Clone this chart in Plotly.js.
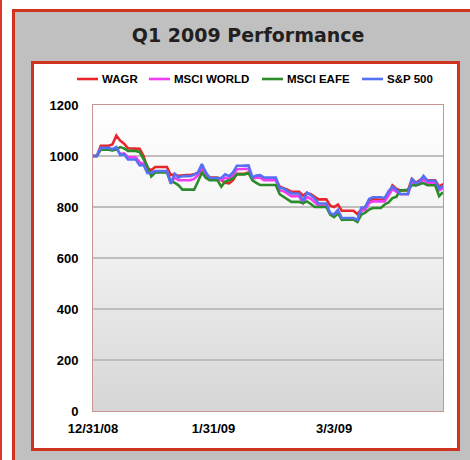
<!DOCTYPE html>
<html>
<head>
<meta charset="utf-8">
<script src="https://cdn.plot.ly/plotly-3.0.1.min.js"></script>
<style>
  html, body { margin: 0; padding: 0; width: 470px; height: 460px; overflow: hidden; background: #ffffff; }
  #leftline { position: absolute; left: 0; top: 0; width: 2px; height: 460px; background: #d8392b; }
  #outer { position: absolute; left: 12px; top: 9px; width: 480px; height: 480px; background: #c0c0c0; border: 3px solid #cf3322; box-sizing: border-box; }
  #inner { position: absolute; left: 31px; top: 61px; width: 429px; height: 390px; background: #ffffff; border: 3px solid #cf3322; box-sizing: border-box; }
  #plotbg { position: absolute; left: 93px; top: 105px; width: 350px; height: 306px; background: linear-gradient(to bottom, #ffffff 0%, #f2f2f2 45%, #d6d6d6 100%); }
  #chart { position: absolute; left: 0; top: 0; width: 470px; height: 460px; }
</style>
</head>
<body>
<div id="leftline"></div>
<div id="outer"></div>
<div id="inner"></div>
<div id="plotbg"></div>
<div id="chart"></div>
<script>
// Daily (calendar-day) index values, starting 12/31/08, ending 3/31/09
const startDate = '2008-12-31';
const seriesNames = ['WAGR', 'MSCI WORLD', 'MSCI EAFE', 'S&P 500'];
const seriesColors = ['#e8262c', '#f23cf0', '#2b8c2b', '#5570f2'];

const wagr = [1000,1000,1040,1040,1040,1045,1080,1060,1048,1030,1030,1030,1028,1000,950,945,957,957,957,957,
  925,928,922,925,925,925,928,935,955,930,915,915,915,905,895,893,905,930,930,930,
  935,915,915,918,910,910,910,910,880,875,868,860,860,860,845,855,850,840,830,830,
  830,805,800,810,785,785,785,785,772,790,800,825,830,830,830,828,850,885,872,865,
  865,865,910,895,905,912,905,905,905,880,890];

const msciWorld = [1000,1000,1030,1030,1030,1025,1030,1008,1010,995,995,995,975,970,940,935,940,940,940,940,
  895,915,905,905,905,905,910,925,955,928,908,908,908,905,915,910,925,948,948,948,
  950,912,915,915,905,905,905,905,865,862,852,842,842,842,815,840,832,820,805,805,
  805,772,765,780,752,752,752,752,745,785,790,815,822,822,822,822,845,870,860,850,
  850,850,900,885,890,908,895,895,895,865,875];

const msciEafe = [1000,1000,1025,1025,1025,1022,1025,1035,1030,1020,1020,1020,1015,990,960,920,935,935,935,935,
  900,895,885,868,868,868,868,900,935,915,905,905,905,880,900,905,912,928,928,928,
  933,905,895,886,886,886,886,886,850,840,830,820,820,820,815,822,812,800,800,800,
  800,770,760,775,749,750,750,750,741,770,778,790,796,796,796,810,818,835,840,865,
  867,867,886,885,890,894,885,885,885,843,858];

const sp500 = [1000,1000,1032,1032,1032,1027,1035,1004,1007,986,986,986,963,965,933,934,941,941,941,941,
  891,930,916,921,921,921,926,936,968,936,914,914,914,914,928,921,936,962,962,962,
  963,916,923,925,915,915,915,915,874,873,862,853,853,853,823,856,847,833,814,814,
  814,776,771,789,756,757,757,757,749,797,799,831,838,838,838,835,862,879,868,851,
  851,851,911,893,901,922,903,903,903,872,883];

const xTickVals = ['2008-12-31', '2009-01-31', '2009-03-03'];
const xTickText = ['12/31/08', '1/31/09', '3/3/09'];
const xRange = ['2008-12-31', '2009-03-31'];
const yTickVals = [0, 200, 400, 600, 800, 1000, 1200];

const allSeries = [wagr, msciWorld, msciEafe, sp500];
const traces = allSeries.map((vals, i) => ({
  type: 'scatter',
  mode: 'lines',
  name: seriesNames[i],
  x0: startDate,
  dx: 86400000,
  y: vals,
  line: { color: seriesColors[i], width: 2.6 },
  hoverinfo: 'skip'
}));

// Manual legend layout (pixel positions within the 470x460 figure)
const plotL = 93, plotW = 350, plotB = 411, plotH = 306;
const legendLineStartPx = [77, 149, 262, 362];
const legendLineLen = 21, legendY = 79;
const px2x = px => (px - plotL) / plotW;
const py2y = py => (plotB - py) / plotH;

const legendShapes = seriesNames.map((n, i) => ({
  type: 'line', xref: 'paper', yref: 'paper',
  x0: px2x(legendLineStartPx[i]), x1: px2x(legendLineStartPx[i] + legendLineLen),
  y0: py2y(legendY), y1: py2y(legendY),
  line: { color: seriesColors[i], width: 2.6 }
}));
const legendAnnotations = seriesNames.map((n, i) => ({
  text: n, xref: 'paper', yref: 'paper',
  x: px2x(legendLineStartPx[i] + legendLineLen + 2), y: py2y(legendY),
  xanchor: 'left', yanchor: 'middle', showarrow: false,
  font: { family: 'Liberation Sans, Arial, sans-serif', size: 11.5, color: '#000000', weight: 700 }
}));

const tickFont = { family: 'Liberation Sans, Arial, sans-serif', size: 13, color: '#000000', weight: 700 };

const layout = {
  width: 470,
  height: 460,
  margin: { l: 93, r: 27, t: 105, b: 49, pad: 0 },
  paper_bgcolor: 'rgba(0,0,0,0)',
  plot_bgcolor: 'rgba(0,0,0,0)',
  title: {
    text: 'Q1 2009 Performance',
    font: { family: 'DejaVu Sans, sans-serif', size: 19, color: '#231f20', weight: 700 },
    x: 0.528, xref: 'container', xanchor: 'center',
    y: 0.924, yref: 'container', yanchor: 'middle'
  },
  showlegend: false,
  shapes: legendShapes,
  annotations: legendAnnotations,
  xaxis: {
    type: 'date',
    range: xRange,
    tickmode: 'array',
    tickvals: xTickVals,
    ticktext: xTickText,
    showgrid: false,
    zeroline: false,
    showline: true,
    linecolor: '#c99494',
    linewidth: 1,
    mirror: true,
    ticks: 'outside',
    ticklen: 5,
    tickcolor: 'rgba(0,0,0,0)',
    tickfont: tickFont,
    fixedrange: true
  },
  yaxis: {
    range: [0, 1200],
    tickmode: 'array',
    tickvals: yTickVals,
    showgrid: true,
    gridcolor: '#bebebe',
    gridwidth: 1.5,
    zeroline: false,
    showline: true,
    linecolor: '#c99494',
    linewidth: 1,
    mirror: true,
    ticks: 'outside',
    ticklen: 11,
    tickcolor: 'rgba(0,0,0,0)',
    tickfont: tickFont,
    fixedrange: true
  }
};

Plotly.newPlot('chart', traces, layout, { staticPlot: true, displayModeBar: false });
</script>
</body>
</html>
